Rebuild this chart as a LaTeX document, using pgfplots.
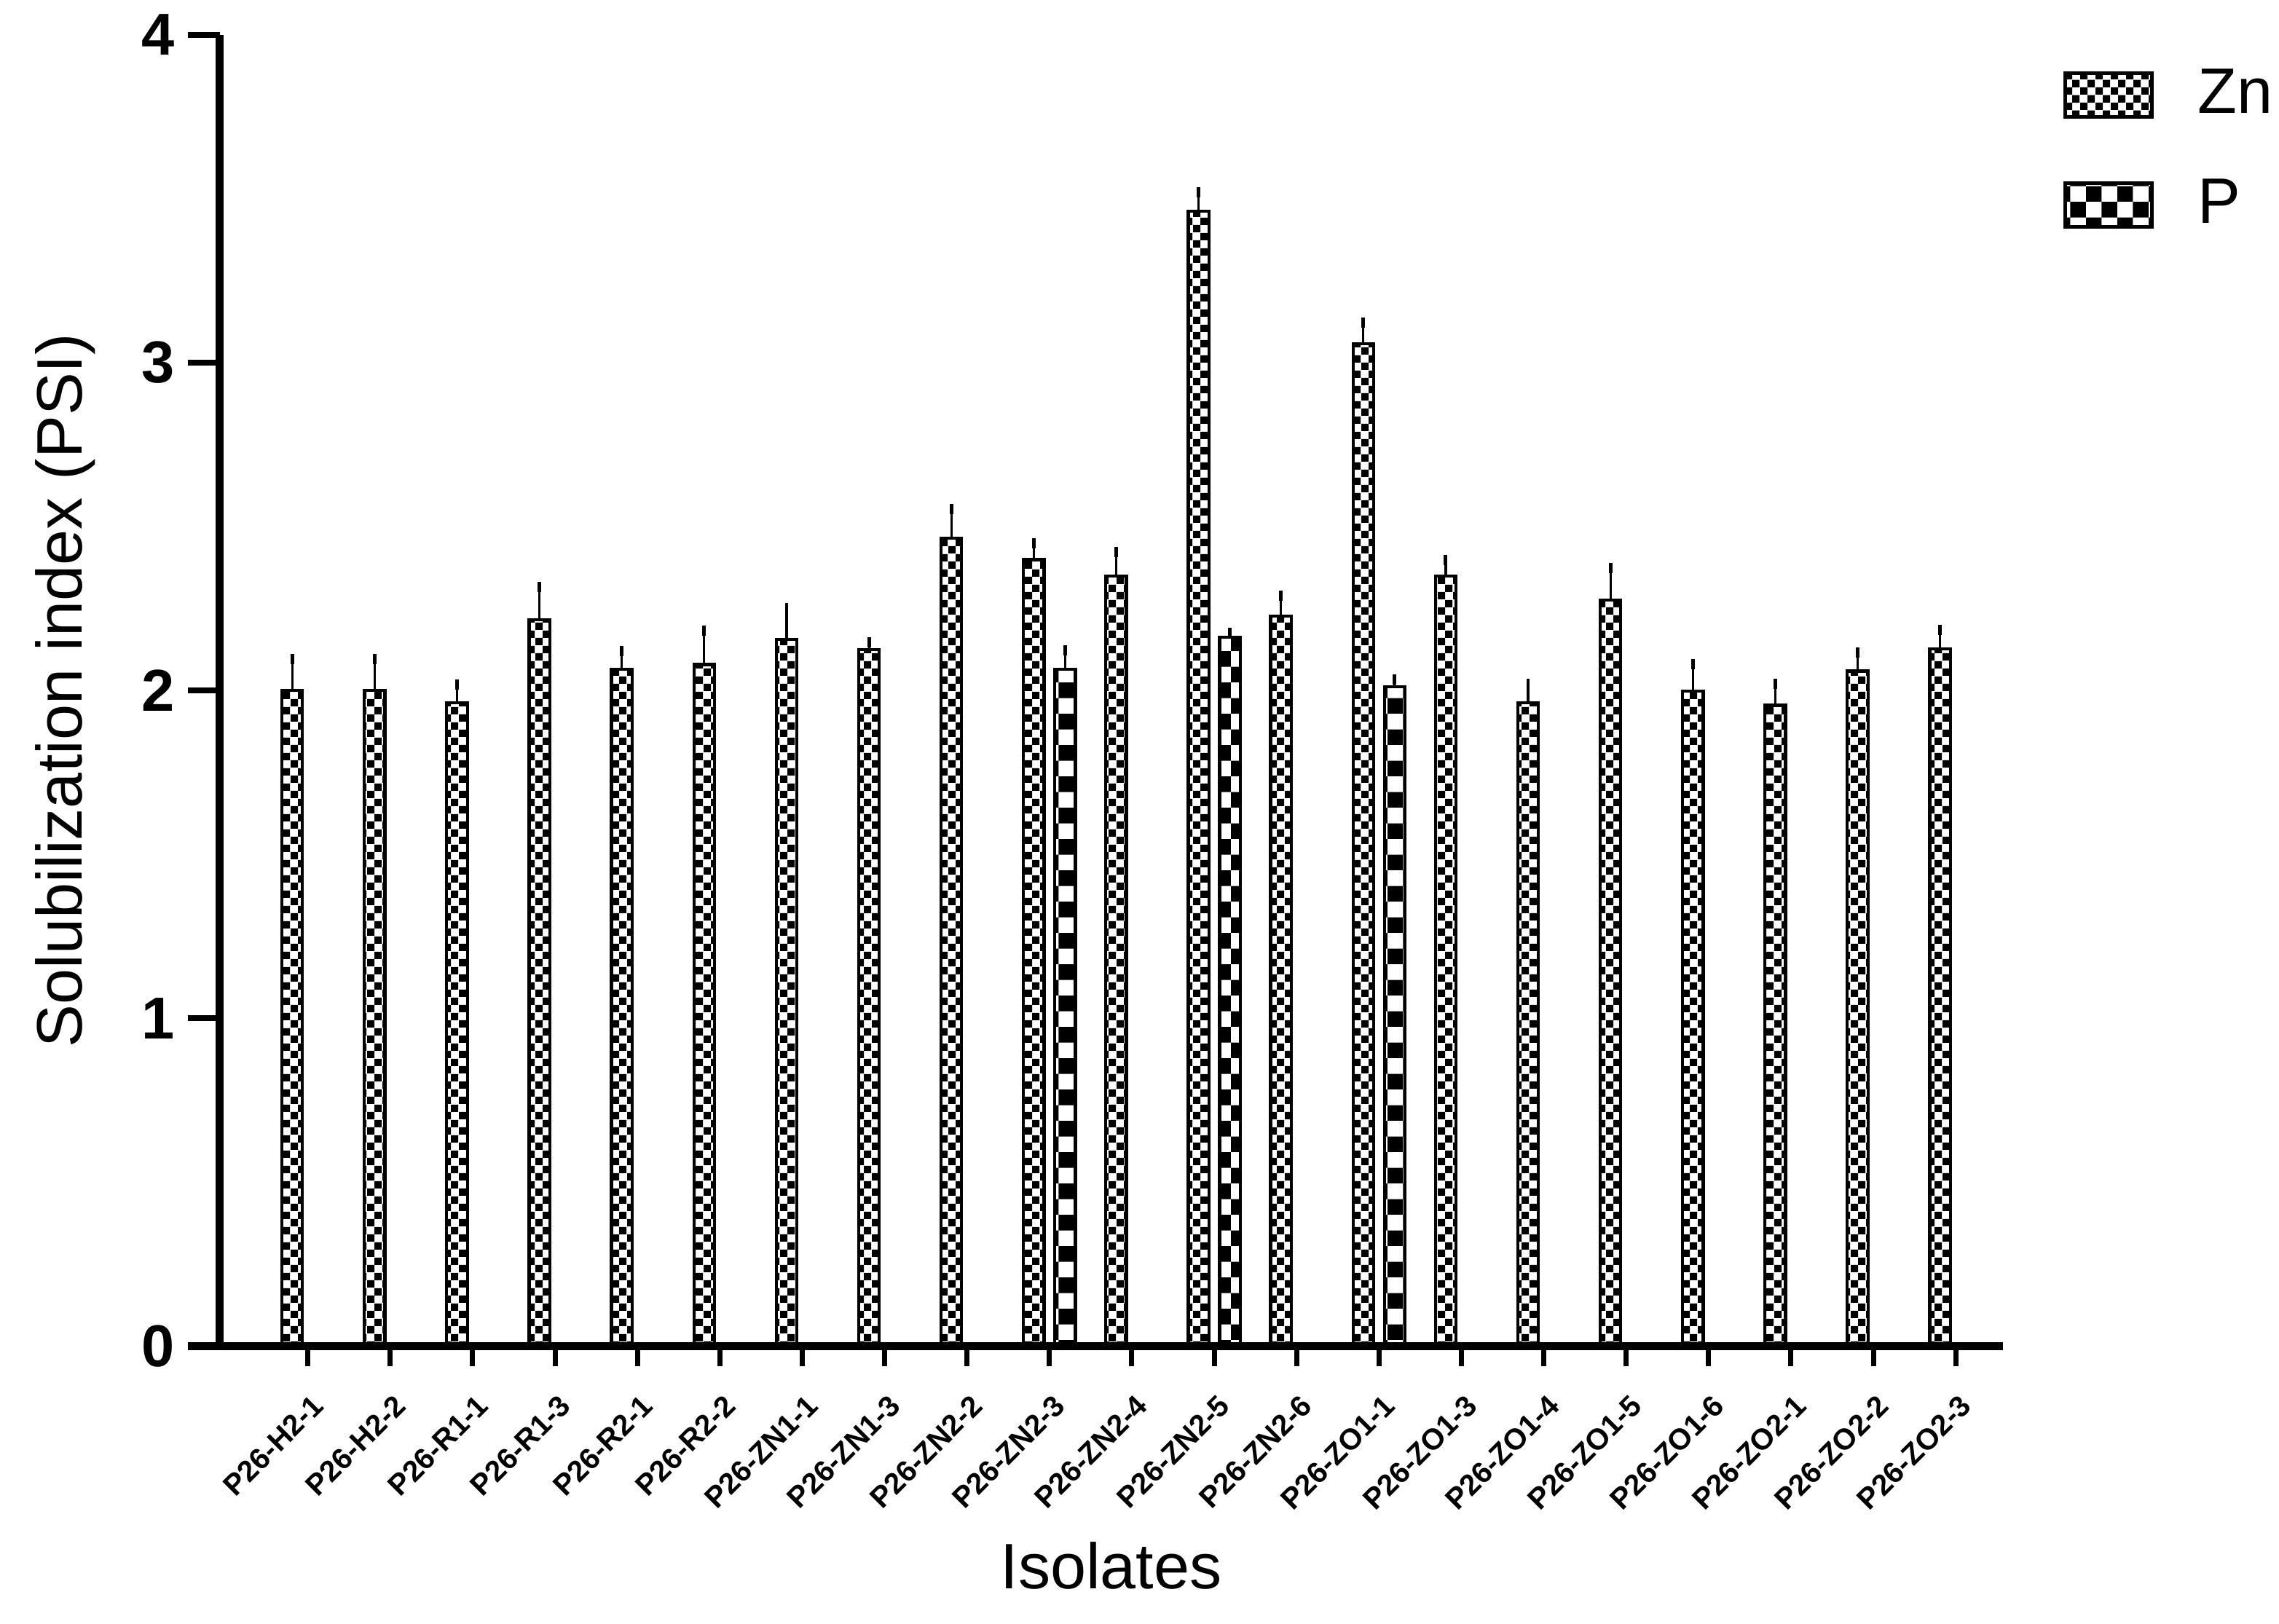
\documentclass[border=0pt]{standalone}
\usepackage{fontspec}
\setmainfont{Liberation Sans}
\usepackage{pgfplots}
\usepackage{pgfplotstable}
\pgfplotsset{compat=1.18}
\usetikzlibrary{patterns}

% small and large checkerboards for the two series
\pgfdeclarepatternformonly{fine checks}{\pgfpointorigin}{\pgfqpoint{3pt}{3pt}}{\pgfqpoint{3pt}{3pt}}{%
  \pgfpathrectangle{\pgfpointorigin}{\pgfqpoint{1.5pt}{1.5pt}}%
  \pgfpathrectangle{\pgfqpoint{1.5pt}{1.5pt}}{\pgfqpoint{1.5pt}{1.5pt}}%
  \pgfusepath{fill}}
\pgfdeclarepatternformonly{coarse checks}{\pgfpointorigin}{\pgfqpoint{6.2pt}{6.2pt}}{\pgfqpoint{6.2pt}{6.2pt}}{%
  \pgfpathrectangle{\pgfpointorigin}{\pgfqpoint{3.1pt}{3.1pt}}%
  \pgfpathrectangle{\pgfqpoint{3.1pt}{3.1pt}}{\pgfqpoint{3.1pt}{3.1pt}}%
  \pgfusepath{fill}}

\pgfplotstableread{
x  zn     znerr
0  2.000  0.096
1  2.000  0.096
2  1.962  0.056
3  2.215  0.100
4  2.064  0.056
5  2.079  0.104
6  2.155  0.096
7  2.125  0.021
8  2.464  0.089
9  2.399  0.050
10 2.349  0.073
11 3.461  0.059
12 2.227  0.062
13 3.058  0.063
14 2.349  0.048
15 1.962  0.058
16 2.276  0.097
17 1.998  0.083
18 1.955  0.065
19 2.059  0.056
20 2.127  0.057
}\zndata

\pgfplotstableread{
x  p      perr
9  2.064  0.058
11 2.163  0.013
13 2.011  0.022
}\pdata

\newcommand{\lblfont}{\fontsize{12.6}{15}\selectfont}

\begin{document}
\begin{tikzpicture}
\begin{axis}[
    anchor=south west, at={(0,0)},
    scale only axis,
    width=349.7pt, height=257.3pt,
    ybar,
    xmin=-1.07, xmax=20.57,
    ymin=0, ymax=4,
    enlargelimits=false,
    axis lines=left,
    axis line style={-, line width=1.5pt},
    x axis line style={shorten <=-6.3pt},
    tick align=outside,
    major tick length=6.3pt,
    ytick={0,1,2,3,4},
    ytick style={line width=1.15pt, black},
    xtick style={line width=1pt, black, /pgfplots/major tick length=3.9pt},
    xtick={0,...,20},
    xticklabels={P26-H2-1,P26-H2-2,P26-R1-1,P26-R1-3,P26-R2-1,P26-R2-2,
        P26-ZN1-1,P26-ZN1-3,P26-ZN2-2,P26-ZN2-3,P26-ZN2-4,P26-ZN2-5,P26-ZN2-6,
        P26-ZO1-1,P26-ZO1-3,P26-ZO1-4,P26-ZO1-5,P26-ZO1-6,P26-ZO2-1,P26-ZO2-2,P26-ZO2-3},
    xticklabel style={rotate=45, anchor=east, inner sep=0pt,
        font=\bfseries\fontsize{5.8}{6}\selectfont, xshift=-1.5pt, yshift=-4.5pt},
    yticklabel style={font=\bfseries\fontsize{11.6}{11.6}\selectfont, inner sep=0pt,
        /pgf/number format/assume math mode=true, xshift=-2.3pt},
    every axis y label/.style={at={([xshift=-30.3pt]axis description cs:0,0.5)},
        rotate=90, anchor=center, font=\lblfont},
    every axis x label/.style={at={([yshift=-43pt]axis description cs:0.5,0)},
        anchor=center, font=\lblfont},
    ylabel={Solubilization index (PSI)},
    xlabel={Isolates},
    legend style={at={(1,1)}, anchor=north west, xshift=11.7pt, yshift=-4.6pt,
        draw=none, fill=none, font=\lblfont, row sep=7.4pt, column sep=6.7pt,
        inner sep=0pt},
    legend cell align=left,
    bar width=0.25,
    bars/.style={draw=black, line width=0.6pt,
        legend image code/.code={\draw[##1, line width=0.7pt] (0pt,-4.3pt) rectangle (17pt,4.3pt);},
        /pgfplots/error bars/y dir=plus,
        /pgfplots/error bars/y explicit,
        /pgfplots/error bars/error bar style={line width=0.45pt, black},
        /pgfplots/error bars/error mark options={line width=0.7pt, mark size=1pt, black}},
]
\addplot[bars, pattern=fine checks, bar shift=-0.19]
    table[x=x, y=zn, y error=znerr] {\zndata};
\addlegendentry{Zn}
\addplot[bars, pattern=coarse checks, bar shift=0.19]
    table[x=x, y=p, y error=perr] {\pdata};
\addlegendentry{P}
\end{axis}
\pgfresetboundingbox
\path (-43.1pt,-54.4pt) rectangle (403.9pt,264.1pt);
\end{tikzpicture}
\end{document}
